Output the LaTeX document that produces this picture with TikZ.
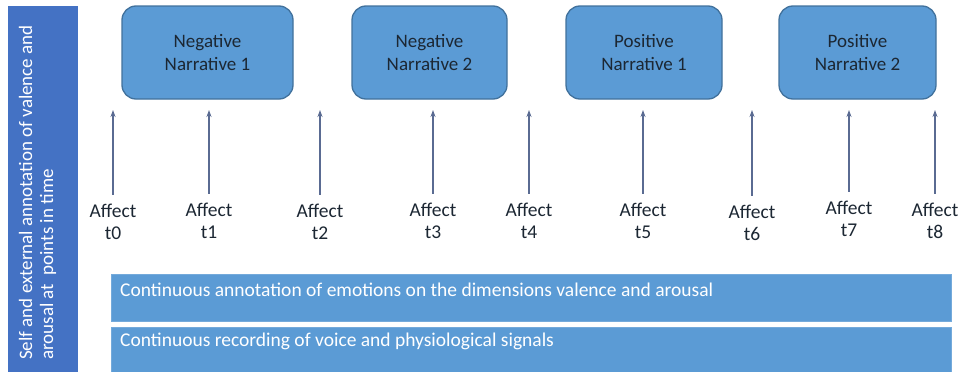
\documentclass[tikz,border=0pt]{standalone}
\usepackage{fontspec}
\setmainfont{Carlito}
\usetikzlibrary{arrows.meta}
\definecolor{boxfill}{HTML}{5B9BD5}
\definecolor{boxedge}{HTML}{41719C}
\definecolor{sidebar}{HTML}{4472C4}
\definecolor{arrowc}{HTML}{5A6B92}
\definecolor{txt}{HTML}{1C2733}
\tikzset{
  narr/.style={draw=boxedge, line width=1.3pt, fill=boxfill, rounded corners=14pt,
    minimum height=93pt, align=center, text=txt, inner sep=0pt,
    font=\fontsize{19}{23}\selectfont},
  affect/.style={align=center, text=txt, inner sep=0pt,
    font=\fontsize{19.5}{22}\selectfont},
  band/.style={fill=boxfill, draw=boxfill!85!white, line width=0.6pt, inner sep=0pt, anchor=north west},
  bandtext/.style={text=white, anchor=west, inner sep=0pt, font=\fontsize{19.5}{22}\selectfont},
  uparrow/.style={draw=arrowc, line width=1.1pt, -{Stealth[length=7pt,width=5pt]}}
}
\begin{document}
\begin{tikzpicture}[x=1pt,y=-1pt]
\useasboundingbox (0,0) rectangle (959,372);

% side band with rotated caption
\node[fill=sidebar, inner sep=0pt, minimum width=70pt, minimum height=366pt, anchor=north west] (side) at (8,6) {};
\node[rotate=90, anchor=west, align=left, text=white, inner sep=0pt,
      font=\fontsize{19}{21}\selectfont] (sidetext) at (37.5,360)
  {Self and external annotation of valence and\\arousal at\ \ points in time};

% narrative boxes
\node[narr, minimum width=171pt] (n1) at (207.5,52.5) {Negative\\Narrative 1};
\node[narr, minimum width=155pt] (n2) at (429.5,52.5) {Negative\\Narrative 2};
\node[narr, minimum width=156pt] (p1) at (644,52.5) {Positive\\Narrative 1};
\node[narr, minimum width=157pt] (p2) at (857.5,52.5) {Positive\\Narrative 2};

% affect sampling points
\node[affect] (a0) at (113,222) {Affect\\t0};
\node[affect] (a1) at (209,221) {Affect\\t1};
\node[affect] (a2) at (320,222) {Affect\\t2};
\node[affect] (a3) at (433,221) {Affect\\t3};
\node[affect] (a4) at (529,221) {Affect\\t4};
\node[affect] (a5) at (643,221) {Affect\\t5};
\node[affect] (a6) at (752,223) {Affect\\t6};
\node[affect] (a7) at (849,219) {Affect\\t7};
\node[affect] (a8) at (935,221) {Affect\\t8};

\foreach \i/\x in {0/113,1/209,2/320,3/433,4/529,5/643,6/752,7/849,8/935}{
  \coordinate (top\i) at (\x,110);
  \draw[uparrow] ([yshift=9pt]a\i.north) -- (top\i);
}

% continuous bands
\node[band, minimum width=840pt, minimum height=47pt] (b1) at (111,274) {};
\node[band, minimum width=840pt, minimum height=45pt] (b2) at (111,327) {};
\node[bandtext] (b1t) at (120,290) {Continuous annotation of emotions on the dimensions valence and arousal};
\node[bandtext] (b2t) at (120,341) {Continuous recording of voice and physiological signals};
\end{tikzpicture}
\end{document}
